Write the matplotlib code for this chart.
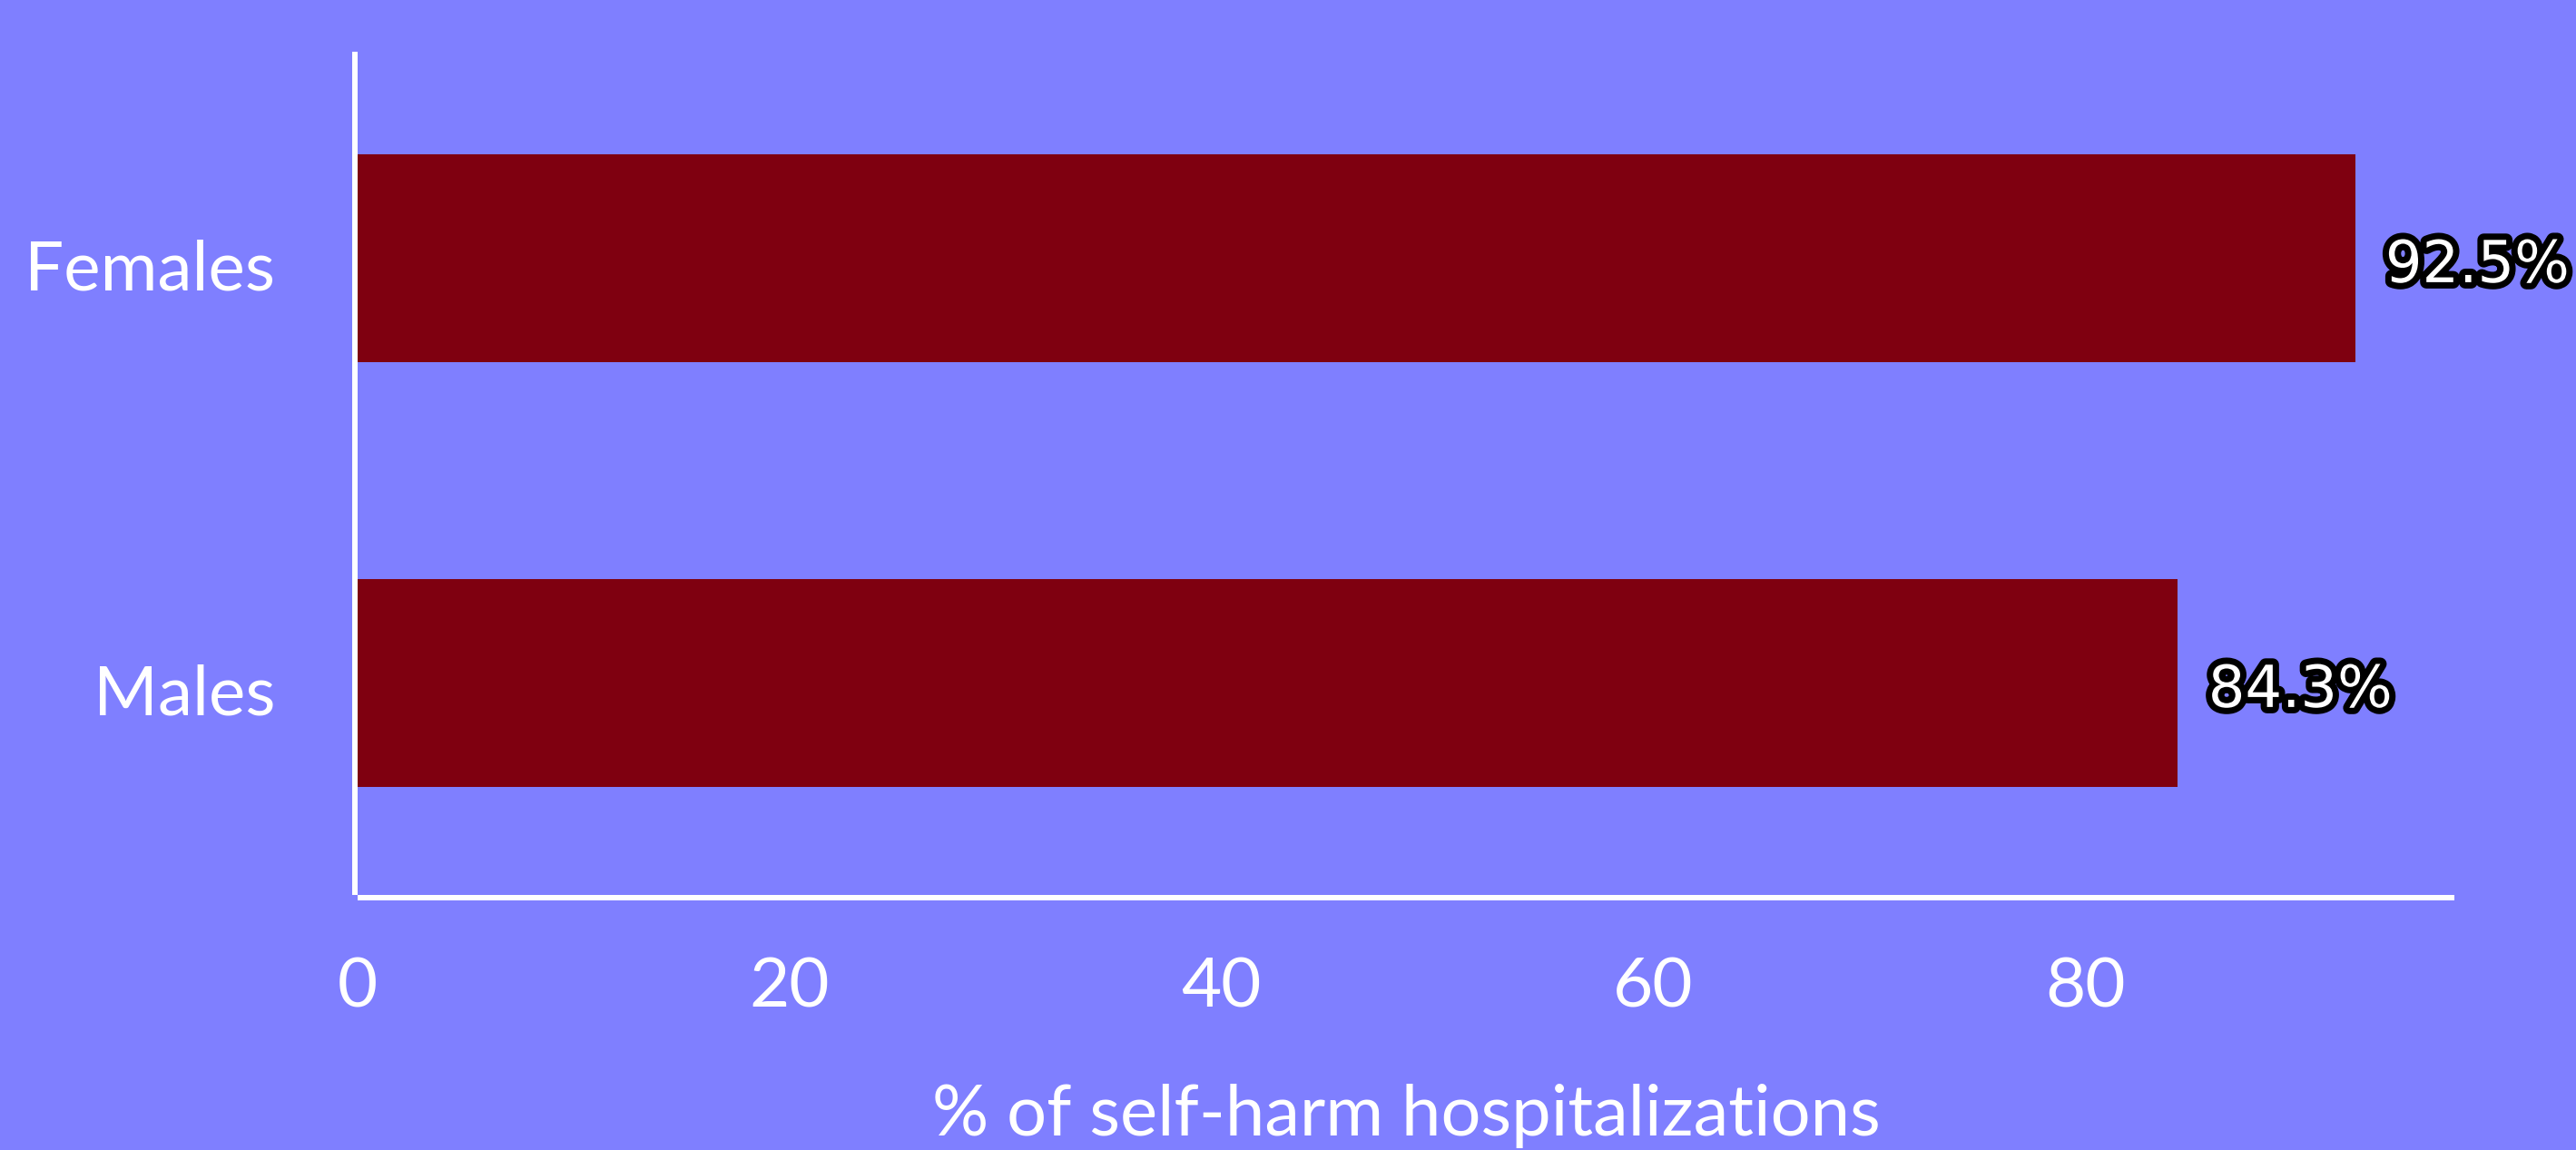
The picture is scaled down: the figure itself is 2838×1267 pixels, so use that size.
import matplotlib
matplotlib.use("Agg")
import matplotlib.pyplot as plt
import matplotlib.patheffects as pe
import matplotlib.transforms as mtransforms

# hospitalization share by sex
groups = ["Males", "Females"]
shares = [84.3, 92.5]
xticks = [0, 20, 40, 60, 80]

bg = "#7f7fff"
bar_color = "#7f0010"
px = 72 / 100  # points per pixel at dpi 100

plt.rcParams["font.family"] = ["Lato", "DejaVu Sans"]

fig = plt.figure(figsize=(28.38, 12.67), dpi=100, facecolor=bg)
ax = fig.add_axes([394 / 2838, 1 - 986 / 1267, 2310 / 2838, 929 / 1267])
ax.set_facecolor(bg)

ypos = list(range(len(groups)))
ax.barh(ypos, shares, height=0.49, color=bar_color)

for y, v in zip(ypos, shares):
    ax.text(v + 1.4, y - 0.018, f"{v}%", ha="left", va="center",
            fontsize=46, color="white", family="DejaVu Sans",
            path_effects=[pe.withStroke(linewidth=14 * px, foreground="black")])

ax.set_xlim(0, 97.1)
ax.set_ylim(-0.499, 1.486)
ax.set_yticks(ypos)
ax.set_yticklabels(groups)
ax.set_xticks(xticks)

for side in ["top", "right"]:
    ax.spines[side].set_visible(False)
for side in ["left", "bottom"]:
    ax.spines[side].set_color("white")
    ax.spines[side].set_linewidth(6 * px)
    ax.spines[side].set_position(("outward", 3 * px))
    ax.spines[side].set_capstyle("butt")

ax.tick_params(axis="x", length=0, pad=64 * px, labelsize=55, labelcolor="white")
ax.tick_params(axis="y", length=0, pad=88 * px, labelsize=55, labelcolor="white")

# nudge category labels down a little
shift = mtransforms.ScaledTranslation(0, -7 / 100, fig.dpi_scale_trans)
for lbl in ax.get_yticklabels():
    lbl.set_transform(lbl.get_transform() + shift)

ax.set_xlabel("% of self-harm hospitalizations", fontsize=56, color="white",
              labelpad=72 * px)

fig.savefig("out.png", dpi=100, facecolor=bg)
